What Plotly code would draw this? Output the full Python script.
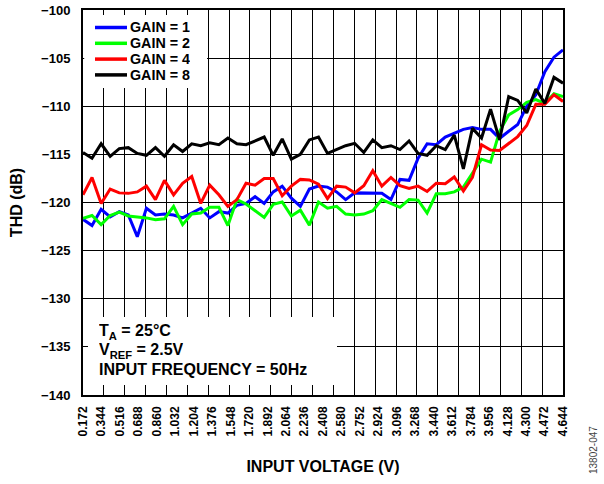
import plotly.graph_objects as go

# Sample input voltages (V), 54 evenly spaced readings from 0.172 V to 4.644 V
input_voltage = [
    0.172, 0.256, 0.341, 0.425, 0.510, 0.594, 0.678, 0.763, 0.847, 0.931,
    1.016, 1.100, 1.185, 1.269, 1.353, 1.438, 1.522, 1.606, 1.691, 1.775,
    1.860, 1.944, 2.028, 2.113, 2.197, 2.281, 2.366, 2.450, 2.535, 2.619,
    2.703, 2.788, 2.872, 2.956, 3.041, 3.125, 3.210, 3.294, 3.378, 3.463,
    3.547, 3.631, 3.716, 3.800, 3.885, 3.969, 4.053, 4.138, 4.222, 4.306,
    4.391, 4.475, 4.560, 4.644,
]

# THD (dB) per PGA gain setting
thd_gain1 = [
    -121.75, -122.4, -120.7, -121.5, -120.95, -121.3, -123.55, -120.6, -121.3, -121.2,
    -121.3, -121.6, -121.1, -120.6, -121.6, -120.95, -121.1, -120.3, -120.1, -119.4,
    -120.1, -118.9, -118.3, -119.55, -120.4, -118.6, -118.3, -118.4, -118.9, -119.7,
    -119.0, -119.0, -119.0, -119.05, -119.7, -117.6, -117.7, -115.4, -113.9, -114.0,
    -113.2, -112.8, -112.4, -112.2, -112.4, -112.4, -113.35, -112.6, -111.9, -110.0,
    -108.8, -106.4, -104.9, -104.15,
]
thd_gain2 = [
    -121.65, -121.35, -122.3, -121.35, -121.0, -121.4, -121.5, -121.6, -121.8, -121.7,
    -120.4, -122.3, -121.2, -121.1, -120.5, -120.5, -122.4, -119.7, -120.15, -120.85,
    -121.55, -120.2, -119.95, -121.4, -120.8, -122.35, -119.95, -120.6, -120.4, -121.2,
    -121.3, -121.2, -120.85, -119.7, -120.1, -120.5, -119.7, -119.75, -121.1, -119.1,
    -119.1, -118.9, -118.4, -116.9, -115.5, -115.8, -112.6, -110.9, -110.35, -109.6,
    -109.3, -109.7, -108.7, -109.0,
]
thd_gain4 = [
    -119.2, -117.4, -120.1, -118.6, -119.0, -119.05, -118.9, -118.3, -119.7, -117.7,
    -119.2, -118.0, -117.3, -120.1, -118.2, -119.2, -120.4, -119.7, -118.0, -118.2,
    -117.5, -117.5, -119.3, -118.3, -117.6, -117.65, -118.1, -119.6, -118.3, -118.4,
    -119.0, -118.25, -116.7, -118.3, -117.4, -118.25, -118.55, -118.3, -118.85, -118.0,
    -118.05, -117.35, -118.8, -117.4, -114.0, -114.55, -114.6, -113.9, -113.15, -112.0,
    -109.8, -109.8, -108.8, -109.5,
]
thd_gain8 = [
    -114.8, -115.4, -113.9, -115.2, -114.4, -114.3, -114.9, -115.1, -114.3, -115.2,
    -114.0, -114.7, -113.9, -114.1, -113.8, -114.0, -113.3, -113.9, -114.0, -113.6,
    -113.2, -115.1, -113.4, -115.5, -115.0, -113.5, -113.2, -114.9, -114.5, -114.1,
    -113.85, -114.8, -113.5, -114.3, -114.1, -114.5, -113.6, -114.9, -115.1, -114.1,
    -114.5, -113.0, -116.5, -112.3, -113.3, -110.3, -113.5, -109.0, -109.4, -110.7,
    -108.2, -109.7, -107.0, -107.6,
]

series_names = ["GAIN = 1", "GAIN = 2", "GAIN = 4", "GAIN = 8"]
series_colors = ["#0000FF", "#00FF00", "#FF0000", "#000000"]

x_tick_labels = [
    "0.172", "0.344", "0.516", "0.688", "0.860", "1.032", "1.204", "1.376", "1.548",
    "1.720", "1.892", "2.064", "2.236", "2.408", "2.580", "2.752", "2.924", "3.096",
    "3.268", "3.440", "3.612", "3.784", "3.956", "4.128", "4.300", "4.472", "4.644",
]
y_ticks = [-140, -135, -130, -125, -120, -115, -110, -105, -100]

X_MIN, X_MAX = 0.172, 4.644
GRID_DIVISIONS = 23
grid_x = [X_MIN + (X_MAX - X_MIN) * k / GRID_DIVISIONS for k in range(1, GRID_DIVISIONS)]

FONT = "Liberation Sans, Arial, sans-serif"

# plot area in pixels (used to place the key and the notes box in paper units)
PLOT_L, PLOT_T, PLOT_W, PLOT_H = 83, 10, 480, 385


def px_x(px):
    return (px - PLOT_L) / PLOT_W


def px_y(py):
    return (PLOT_T + PLOT_H - py) / PLOT_H


fig = go.Figure()
for name, color, values in zip(series_names, series_colors,
                               [thd_gain1, thd_gain2, thd_gain4, thd_gain8]):
    fig.add_trace(go.Scatter(
        x=input_voltage, y=values, mode="lines", name=name,
        line=dict(color=color, width=3), showlegend=False,
    ))

# Second x axis carries the voltage labels; the first one carries the grid
fig.add_trace(go.Scatter(x=[X_MIN, X_MAX], y=[-140, -140], xaxis="x2", yaxis="y",
                         mode="lines", line=dict(width=0), showlegend=False,
                         hoverinfo="skip"))

fig.update_layout(
    width=604, height=484,
    margin=dict(l=PLOT_L, r=604 - PLOT_L - PLOT_W, t=PLOT_T, b=484 - PLOT_T - PLOT_H),
    paper_bgcolor="white", plot_bgcolor="white",
    font=dict(family=FONT, color="black"),
    showlegend=False,
    xaxis=dict(
        range=[X_MIN, X_MAX],
        tickmode="array", tickvals=grid_x,
        showticklabels=False, ticks="",
        showgrid=True, gridcolor="black", gridwidth=1.3,
        showline=True, linecolor="black", linewidth=2, mirror=True,
        zeroline=False, automargin=False,
    ),
    xaxis2=dict(
        overlaying="x", anchor="y", side="bottom",
        range=[X_MIN, X_MAX],
        tickmode="array",
        tickvals=[float(t) for t in x_tick_labels],
        ticktext=x_tick_labels,
        tickangle=-90, ticks="", ticklabelstandoff=8,
        showgrid=False, showline=False, zeroline=False, automargin=False,
        tickfont=dict(family=FONT, size=12, weight="bold"),
        title=dict(text="INPUT VOLTAGE (V)", standoff=25,
                   font=dict(family=FONT, size=16, weight="bold")),
    ),
    yaxis=dict(
        range=[-140, -100],
        tickmode="array", tickvals=y_ticks,
        ticks="", ticklabelstandoff=8,
        showgrid=True, gridcolor="black", gridwidth=1.3,
        showline=True, linecolor="black", linewidth=2, mirror=True,
        zeroline=False, automargin=False,
        tickfont=dict(family=FONT, size=13, weight="bold"),
        title=dict(text="THD (dB)", standoff=15,
                   font=dict(family=FONT, size=16, weight="bold")),
    ),
)

# Key: white panel, colour swatches and labels
fig.add_shape(type="rect", xref="paper", yref="paper",
              x0=px_x(84.2), x1=px_x(207), y0=px_y(88), y1=px_y(15),
              fillcolor="white", line=dict(width=0), layer="above")
key_rows = [27.5, 43.3, 59.1, 74.9]
for name, color, row in zip(series_names, series_colors, key_rows):
    fig.add_shape(type="line", xref="paper", yref="paper",
                  x0=px_x(95), x1=px_x(127), y0=px_y(row), y1=px_y(row),
                  line=dict(color=color, width=3.5), layer="above")
    fig.add_annotation(xref="paper", yref="paper", x=px_x(129), y=px_y(row),
                       xanchor="left", yanchor="middle", showarrow=False,
                       height=14, borderpad=0, valign="middle",
                       text=name, font=dict(family=FONT, size=14.3, weight="bold"))

# Test-conditions panel
fig.add_shape(type="rect", xref="paper", yref="paper",
              x0=px_x(88), x1=px_x(337), y0=px_y(385), y1=px_y(317),
              fillcolor="white", line=dict(width=0), layer="above")
condition_lines = ["T<sub>A</sub> = 25°C", "V<sub>REF</sub> = 2.5V",
                   "INPUT FREQUENCY = 50Hz"]
condition_rows = [332, 350.5, 369]
for text, row in zip(condition_lines, condition_rows):
    fig.add_annotation(xref="paper", yref="paper", x=px_x(98), y=px_y(row),
                       xanchor="left", yanchor="middle", showarrow=False,
                       height=18, borderpad=0, valign="middle",
                       text=text, font=dict(family=FONT, size=16, weight="bold"))

fig.add_annotation(
    xref="paper", yref="paper", x=px_x(593), y=px_y(450),
    xanchor="center", yanchor="middle", showarrow=False, textangle=-90,
    text="13802-047", font=dict(family=FONT, size=10, color="#444444"),
)

fig.write_html("out.html")
